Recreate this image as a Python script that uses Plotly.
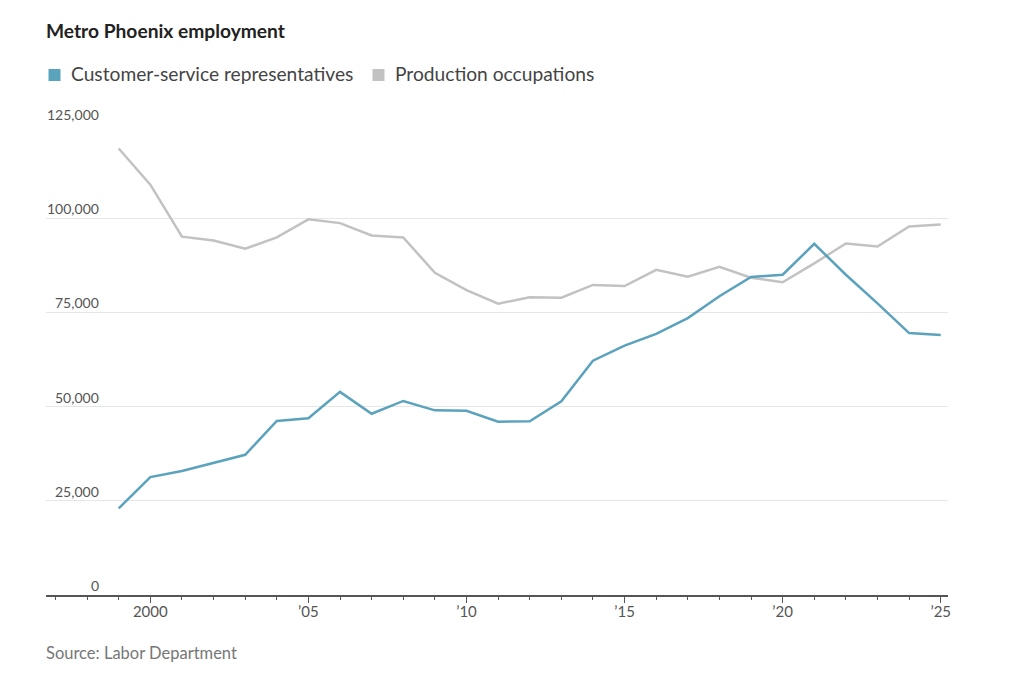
import plotly.graph_objects as go

years = list(range(1999, 2026))

customer_service = [
    23000, 31300, 32900, 35000, 37200, 46200, 46900, 53900, 48100, 51500,
    49000, 48900, 46000, 46100, 51400, 62200, 66200, 69300, 73500, 79300,
    84400, 85000, 93200, 85000, 77400, 69500, 69000,
]
production = [
    118500, 108900, 95100, 94100, 91900, 94900, 99700, 98700, 95400, 94900,
    85500, 80900, 77300, 79000, 78900, 82300, 82000, 86300, 84500, 87100,
    84200, 83000, 88000, 93300, 92500, 97800, 98300,
]

series_names = ["Customer-service representatives", "Production occupations"]

x_tick_vals = [2000, 2005, 2010, 2015, 2020, 2025]
x_tick_text = ["2000", "\u201905", "\u201910", "\u201915", "\u201920", "\u201925"]
y_tick_vals = [0, 25000, 50000, 75000, 100000, 125000]
y_tick_text = ["0", "25,000", "50,000", "75,000", "100,000", "125,000"]

TEAL = "#5ba2bd"
GRAY = "#c2c2c2"
FONT = "Lato"

# the page body adds 8px around the figure
W, H = 1008, 662
PLOT_L, PLOT_R, PLOT_T, PLOT_B = 46, 948, 124, 595  # page pixels
PW, PH = PLOT_R - PLOT_L, PLOT_B - PLOT_T


def px(x):
    return (x - PLOT_L) / PW


def py(y):
    return (PLOT_B - y) / PH


fig = go.Figure()

fig.add_trace(
    go.Scatter(
        x=years, y=production, mode="lines", name=series_names[1],
        line={"color": GRAY, "width": 2.5},
    )
)
fig.add_trace(
    go.Scatter(
        x=years, y=customer_service, mode="lines", name=series_names[0],
        line={"color": TEAL, "width": 2.5},
    )
)

# legend: colour squares and labels
legend_items = [(series_names[0], TEAL, 48.5, 70.5), (series_names[1], GRAY, 372.5, 394.5)]
for name, color, sq_x, txt_x in legend_items:
    fig.add_shape(
        type="rect", xref="paper", yref="paper",
        x0=px(sq_x), x1=px(sq_x + 12), y0=py(81), y1=py(69),
        fillcolor=color, line={"width": 0},
    )
    fig.add_annotation(
        x=px(txt_x - 2), xref="paper", xanchor="left",
        y=py(73.5), yref="paper", yanchor="middle",
        text=name, showarrow=False,
        font={"family": FONT, "size": 19.2, "color": "#444444"},
    )

# y tick labels, right aligned above the gridlines
for val, txt in zip(y_tick_vals, y_tick_text):
    fig.add_annotation(
        x=px(101), xref="paper", xanchor="right",
        y=val, yref="y", yanchor="bottom", yshift=-1,
        text=txt, showarrow=False,
        font={"family": FONT, "size": 14, "color": "#555555"},
    )

fig.add_annotation(
    x=px(44), xref="paper", xanchor="left",
    y=py(653), yref="paper", yanchor="middle",
    text="Source: Labor Department", showarrow=False,
    font={"family": FONT, "size": 16.5, "color": "#777777"},
)

fig.update_layout(
    width=W,
    height=H,
    margin={"l": PLOT_L - 8, "r": W + 8 - PLOT_R, "t": PLOT_T - 8, "b": H + 8 - PLOT_B},
    paper_bgcolor="white",
    plot_bgcolor="white",
    font={"family": FONT, "color": "#333333"},
    showlegend=False,
    title={
        "text": "<b>Metro Phoenix employment</b>",
        "x": (46 - 8) / W, "xanchor": "left",
        "y": 1 - (31 - 8) / H, "yanchor": "middle",
        "font": {"family": FONT, "size": 19.2, "color": "#222222"},
    },
    xaxis={
        "range": [1996.7, 2025.23],
        "tickvals": x_tick_vals,
        "ticktext": x_tick_text,
        "ticks": "outside",
        "ticklen": 6,
        "tickcolor": "#555555",
        "ticklabelstandoff": -4,
        "showline": True,
        "linecolor": "#555555",
        "linewidth": 1.5,
        "showgrid": False,
        "zeroline": False,
        "tickfont": {"family": FONT, "size": 15, "color": "#555555"},
        "minor": {"dtick": 1, "tick0": 1999, "ticks": "outside", "ticklen": 3,
                  "tickcolor": "#555555", "showgrid": False},
    },
    yaxis={
        "range": [0, 125000],
        "tickvals": y_tick_vals,
        "showticklabels": False,
        "showgrid": True,
        "gridcolor": "#e6e6e6",
        "gridwidth": 1,
        "zeroline": False,
        "showline": False,
    },
)

fig.write_html("out.html")
